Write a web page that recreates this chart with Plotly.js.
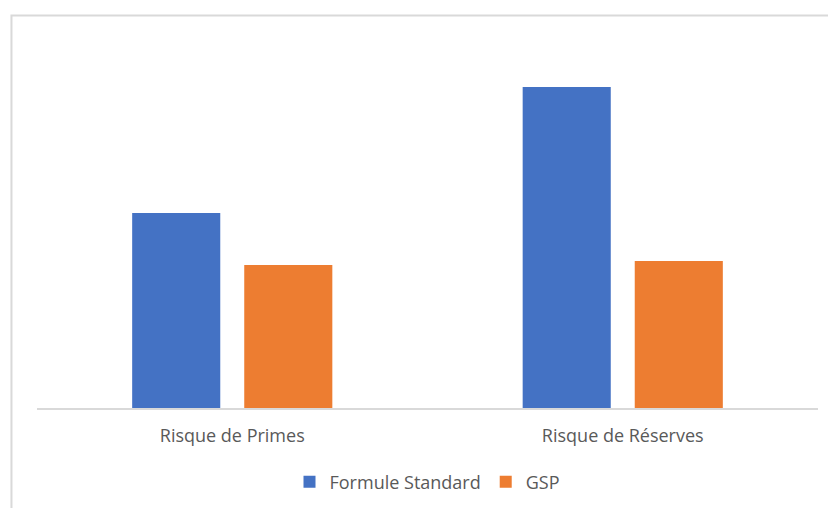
<!DOCTYPE html>
<html>
<head>
<meta charset="utf-8">
<script src="https://cdn.plot.ly/plotly-3.0.1.min.js"></script>
<style>
  html, body { margin: 0; padding: 0; background: #ffffff; }
  #chart { width: 828px; height: 508px; }
</style>
</head>
<body>
<div id="chart"></div>
<script>
// Capital requirement per risk module, standard formula vs. undertaking-specific parameters
const categories = ["Risque de Primes", "Risque de Réserves"];
const formuleStandard = [19.5, 32.1];
const gsp = [14.3, 14.7];
const seriesNames = ["Formule Standard", "GSP"];

const textColor = "#595959";
const lineColor = "#d9d9d9";

const traces = [
  {
    type: "bar",
    name: seriesNames[0],
    x: categories,
    y: formuleStandard,
    marker: { color: "#4472C4" },
    hoverinfo: "x+y+name"
  },
  {
    type: "bar",
    name: seriesNames[1],
    x: categories,
    y: gsp,
    marker: { color: "#ED7D31" },
    hoverinfo: "x+y+name"
  }
];

const layout = {
  width: 828,
  height: 508,
  margin: { l: 37, r: 10, t: 30, b: 100, autoexpand: false },
  paper_bgcolor: "#ffffff",
  plot_bgcolor: "#ffffff",
  font: { family: "Open Sans, Noto Sans, sans-serif", size: 18, color: textColor },
  barmode: "group",
  bargap: 0.426,
  bargroupgap: 0.214,
  showlegend: true,
  legend: {
    orientation: "h",
    x: 0.5,
    xanchor: "center",
    y: -0.196,
    yanchor: "middle",
    font: { size: 18, color: textColor },
    itemwidth: 30,
    tracegroupgap: 0
  },
  xaxis: {
    automargin: false,
    showline: true,
    linecolor: lineColor,
    linewidth: 1.5,
    ticks: "",
    showgrid: false,
    zeroline: false,
    tickfont: { size: 18, color: textColor },
    ticklabelstandoff: 11,
    fixedrange: true
  },
  yaxis: {
    visible: false,
    automargin: false,
    range: [0, 37.8],
    showgrid: false,
    zeroline: false,
    fixedrange: true
  },
  shapes: [
    {
      type: "rect",
      xref: "paper",
      yref: "paper",
      x0: -0.0327,
      x1: 1.02,
      y0: -0.3,
      y1: 1.0384,
      line: { color: lineColor, width: 2 },
      fillcolor: "rgba(0,0,0,0)",
      layer: "below"
    }
  ]
};

Plotly.newPlot("chart", traces, layout, { displayModeBar: false, staticPlot: true });
</script>
</body>
</html>
